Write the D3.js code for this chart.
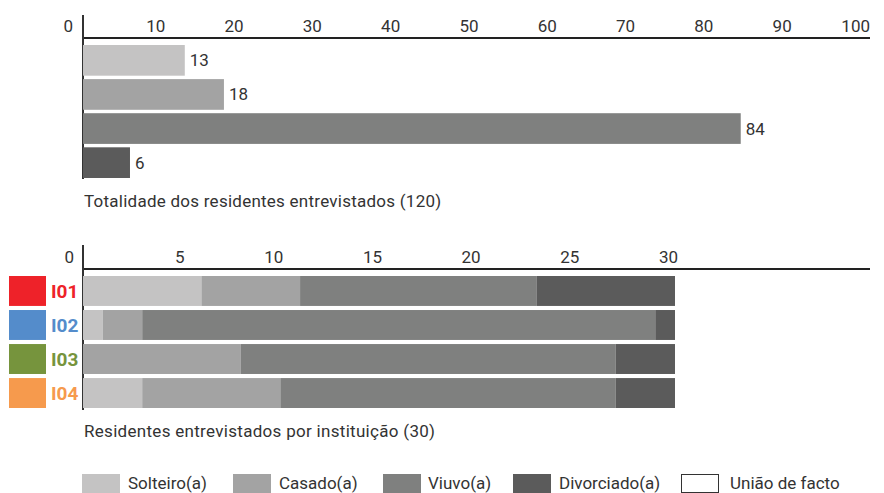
<!DOCTYPE html>
<html>
<head>
<meta charset="utf-8">
<script src="https://cdn.jsdelivr.net/npm/d3@7"></script>
<style>
  html, body { margin: 0; padding: 0; background: #fff; }
  svg { display: block; font-family: Roboto, "DejaVu Sans", sans-serif; }
</style>
</head>
<body>
<svg id="chart" width="884" height="493"></svg>
<script>
// Marital status categories and their greys
const statusLabels = ["Solteiro(a)", "Casado(a)", "Viuvo(a)", "Divorciado(a)", "União de facto"];
const statusColors = ["#c4c3c3", "#a3a3a3", "#7f807f", "#5b5b5b", "#ffffff"];

// Totals across all interviewed residents
const totalValues = [13, 18, 84, 6];
const totalTicks = [0, 10, 20, 30, 40, 50, 60, 70, 80, 90, 100];

// Per-institution breakdown (Solteiro, Casado, Viuvo, Divorciado)
const institutions = ["I01", "I02", "I03", "I04"];
const institutionColors = ["#ee2229", "#548ccb", "#76943d", "#f69a4d"];
const solteiro = [6, 1, 0, 3];
const casado = [5, 2, 8, 7];
const viuvo = [12, 26, 19, 17];
const divorciado = [7, 1, 3, 3];
const instTicks = [0, 5, 10, 15, 20, 25, 30];

const svg = d3.select("#chart");
const textColor = "#333";
const axisX = 83;

// ---------- Top chart: totals ----------
const x1 = d3.scaleLinear().domain([0, 100]).range([axisX, 866]);
const y1 = d3.scaleBand().domain(d3.range(totalValues.length)).range([45, 178]).paddingInner(0.1).paddingOuter(0);

const topG = svg.append("g");
topG.append("line").attr("x1", axisX).attr("x2", 870).attr("y1", 38).attr("y2", 38)
  .attr("stroke", "#222").attr("stroke-width", 2);
topG.append("line").attr("x1", axisX).attr("x2", axisX).attr("y1", 15).attr("y2", 179)
  .attr("stroke", "#333").attr("stroke-width", 2);

topG.selectAll("text.tick").data(totalTicks).join("text")
  .attr("class", "tick")
  .attr("x", d => d === 0 ? x1(d) - 10 : x1(d) + 4)
  .attr("y", 32)
  .attr("text-anchor", "end")
  .attr("font-size", 17)
  .attr("fill", textColor)
  .text(d => d);

topG.selectAll("rect").data(totalValues).join("rect")
  .attr("x", x1(0))
  .attr("y", (d, i) => y1(i))
  .attr("width", d => x1(d) - x1(0))
  .attr("height", y1.bandwidth())
  .attr("fill", (d, i) => statusColors[i]);

topG.selectAll("text.val").data(totalValues).join("text")
  .attr("class", "val")
  .attr("x", d => x1(d) + 5)
  .attr("y", (d, i) => y1(i) + y1.bandwidth() / 2 + 6)
  .attr("font-size", 17)
  .attr("fill", textColor)
  .text(d => d);

topG.append("text").attr("x", 84).attr("y", 207)
  .attr("font-size", 17).attr("letter-spacing", 0.25).attr("fill", textColor)
  .text("Totalidade dos residentes entrevistados (120)");

// ---------- Bottom chart: by institution ----------
const x2 = d3.scaleLinear().domain([0, 30]).range([axisX, 675]);
const y2 = d3.scaleBand().domain(institutions).range([276, 408]).paddingInner(0.12).paddingOuter(0);

const rows = institutions.map((name, i) => ({
  name, s: solteiro[i], c: casado[i], v: viuvo[i], d: divorciado[i]
}));
const stacked = d3.stack().keys(["s", "c", "v", "d"])(rows);

const bottomG = svg.append("g");
bottomG.append("line").attr("x1", axisX).attr("x2", 870).attr("y1", 269).attr("y2", 269)
  .attr("stroke", "#222").attr("stroke-width", 2);
bottomG.append("line").attr("x1", axisX).attr("x2", axisX).attr("y1", 245).attr("y2", 410)
  .attr("stroke", "#333").attr("stroke-width", 2);

bottomG.selectAll("text.tick").data(instTicks).join("text")
  .attr("class", "tick")
  .attr("x", d => d === 0 ? x2(d) - 9 : x2(d) + 3)
  .attr("y", 263)
  .attr("text-anchor", "end")
  .attr("font-size", 17)
  .attr("fill", textColor)
  .text(d => d);

bottomG.selectAll("g.layer").data(stacked).join("g")
  .attr("class", "layer")
  .attr("fill", (d, i) => statusColors[i])
  .selectAll("rect").data(d => d).join("rect")
  .attr("x", d => x2(d[0]))
  .attr("y", d => y2(d.data.name))
  .attr("width", d => x2(d[1]) - x2(d[0]))
  .attr("height", y2.bandwidth());

// Institution swatches and labels
bottomG.selectAll("rect.inst").data(institutions).join("rect")
  .attr("class", "inst")
  .attr("x", 9).attr("y", d => y2(d))
  .attr("width", 37).attr("height", y2.bandwidth())
  .attr("fill", (d, i) => institutionColors[i]);

bottomG.selectAll("text.inst").data(institutions).join("text")
  .attr("class", "inst")
  .attr("x", 51).attr("y", d => y2(d) + y2.bandwidth() / 2 + 7)
  .attr("font-size", 19).attr("font-weight", "bold")
  .attr("fill", (d, i) => institutionColors[i])
  .text(d => d);

bottomG.append("text").attr("x", 84).attr("y", 437)
  .attr("font-size", 17).attr("letter-spacing", 0.3).attr("fill", textColor)
  .text("Residentes entrevistados por instituição (30)");

// ---------- Legend ----------
const legendX = [82, 233, 383, 513, 681];
const legend = svg.append("g").selectAll("g").data(statusLabels).join("g")
  .attr("transform", (d, i) => `translate(${legendX[i]},474)`);
legend.append("rect")
  .attr("x", (d, i) => i === 4 ? 0.5 : 0)
  .attr("y", (d, i) => i === 4 ? 0.5 : 0)
  .attr("width", (d, i) => i === 4 ? 37 : 38)
  .attr("height", (d, i) => i === 4 ? 18 : 19)
  .attr("fill", (d, i) => statusColors[i])
  .attr("stroke", (d, i) => i === 4 ? "#333" : "none");
legend.append("text")
  .attr("x", (d, i) => i === 4 ? 49 : (i === 2 ? 45 : 46))
  .attr("y", 15)
  .attr("font-size", 17).attr("fill", textColor)
  .text(d => d);
</script>
</body>
</html>
